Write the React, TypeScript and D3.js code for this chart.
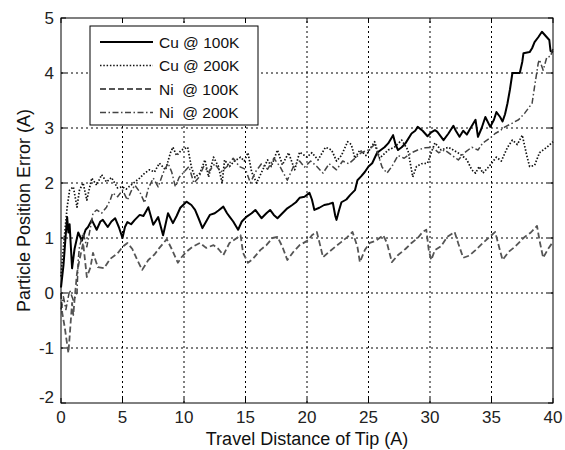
import React from "react";
import * as d3 from "d3";

const xTicks = [0, 5, 10, 15, 20, 25, 30, 35, 40];
const yTicks = [-2, -1, 0, 1, 2, 3, 4, 5];
const seriesNames = ["Cu @ 100K", "Cu @ 200K", "Ni  @ 100K", "Ni  @ 200K"];

const cu100: [number, number][] = [[0,0.1],[0.2,0.5],[0.4,1.1],[0.5,1.38],[0.6,1.1],[0.7,1.25],[0.9,0.45],[1.1,0.8],[1.4,1.1],[1.7,0.95],[2.0,1.15],[2.2,1.2],[2.5,1.33],[2.9,1.15],[3.2,1.3],[3.4,1.33],[3.8,1.2],[4.1,1.3],[4.4,1.36],[4.7,1.2],[5.0,1.0],[5.2,1.2],[5.4,1.29],[5.7,1.25],[6.0,1.33],[6.4,1.42],[6.7,1.4],[7.1,1.56],[7.5,1.24],[7.9,1.38],[8.3,1.05],[8.7,1.45],[9.1,1.27],[9.4,1.4],[9.7,1.55],[10.2,1.66],[10.6,1.6],[10.9,1.51],[11.2,1.35],[11.5,1.18],[11.8,1.3],[12.1,1.42],[12.5,1.45],[12.8,1.5],[13.2,1.57],[13.5,1.45],[13.7,1.39],[14.0,1.3],[14.4,1.15],[14.7,1.3],[15.1,1.39],[15.5,1.45],[15.8,1.51],[16.3,1.36],[16.7,1.45],[17.0,1.51],[17.3,1.42],[17.6,1.36],[18.0,1.45],[18.4,1.54],[18.8,1.6],[19.1,1.65],[19.4,1.73],[19.8,1.75],[20.2,1.82],[20.4,1.7],[20.6,1.51],[21.0,1.55],[21.4,1.6],[21.8,1.62],[22.1,1.64],[22.3,1.4],[22.4,1.33],[22.6,1.5],[22.8,1.65],[23.2,1.7],[23.5,1.78],[23.9,1.87],[24.1,2.05],[24.4,2.12],[24.7,2.2],[25.0,2.3],[25.3,2.36],[25.7,2.55],[26.0,2.6],[26.3,2.65],[26.6,2.72],[27.0,2.87],[27.2,2.7],[27.4,2.6],[27.7,2.65],[28.0,2.72],[28.5,2.9],[28.8,2.95],[29.0,3.02],[29.4,2.95],[29.8,2.85],[30.1,2.92],[30.4,2.96],[30.6,2.93],[31.1,2.78],[31.5,2.9],[31.9,3.04],[32.1,2.95],[32.4,2.84],[32.7,2.95],[33.0,2.88],[33.3,3.0],[33.7,3.15],[33.9,2.84],[34.2,3.0],[34.5,3.2],[34.9,3.02],[35.2,3.15],[35.4,3.29],[35.7,3.2],[35.9,3.12],[36.1,3.25],[36.3,3.45],[36.5,3.7],[36.7,4.0],[37.0,4.0],[37.3,4.0],[37.5,4.2],[37.6,4.36],[38.1,4.38],[38.3,4.45],[38.5,4.56],[38.8,4.65],[39.1,4.75],[39.3,4.7],[39.5,4.65],[39.7,4.6],[39.8,4.4],[40,4.38]];

const cu200: [number, number][] = [[0,0.3],[0.2,0.84],[0.5,1.56],[0.7,1.87],[1.0,1.93],[1.3,1.56],[1.5,1.87],[1.8,2.0],[2.1,1.69],[2.5,2.09],[2.9,1.96],[3.3,2.15],[3.7,2.02],[4.1,2.1],[4.6,1.91],[5.0,1.93],[5.3,1.89],[5.9,2.0],[6.4,2.09],[6.8,2.18],[7.2,2.24],[7.6,2.2],[8.0,2.36],[8.5,2.24],[8.9,2.55],[9.1,2.65],[9.4,2.5],[9.8,2.6],[10.3,2.65],[10.6,2.29],[10.9,2.1],[11.3,2.18],[11.7,2.42],[12.0,2.11],[12.4,2.47],[12.8,2.3],[13.1,2.0],[13.3,2.42],[13.7,2.3],[14.1,2.4],[14.6,2.47],[14.9,2.4],[15.2,2.55],[15.5,2.2],[15.9,2.0],[16.4,2.24],[16.8,2.42],[17.1,2.3],[17.6,2.6],[18.0,2.33],[18.5,2.55],[19.0,2.24],[19.4,2.56],[20.0,2.47],[20.4,2.55],[20.9,2.42],[21.5,2.65],[22.0,2.6],[22.4,2.4],[22.8,2.5],[23.3,2.75],[23.6,2.7],[23.9,2.45],[24.3,2.6],[24.8,2.5],[25.5,2.75],[25.9,2.45],[26.6,2.6],[27.1,2.65],[27.7,2.78],[28.2,2.6],[28.6,2.11],[28.9,2.3],[29.3,2.35],[29.8,2.36],[30.1,2.55],[30.4,2.73],[30.9,2.6],[31.5,2.65],[32.2,2.56],[32.6,2.5],[33.0,2.42],[33.4,2.24],[33.7,2.18],[34.0,2.3],[34.3,2.18],[34.8,2.3],[35.4,2.47],[35.8,2.4],[36.3,2.65],[36.7,2.78],[37.1,2.7],[37.5,2.87],[37.9,2.47],[38.1,2.3],[38.5,2.32],[38.9,2.55],[39.5,2.65],[40,2.75]];

const ni100: [number, number][] = [[0,0.0],[0.1,-0.36],[0.3,-0.62],[0.6,-1.09],[0.7,-0.8],[0.9,-0.18],[1.0,-0.4],[1.1,-0.13],[1.3,0.36],[1.5,0.6],[1.8,0.91],[2.1,0.29],[2.4,0.47],[2.6,0.73],[3.0,0.47],[3.5,0.45],[4.0,0.62],[4.6,0.72],[5.0,0.84],[5.4,0.91],[5.8,0.8],[6.2,0.6],[6.6,0.42],[7.1,0.6],[7.6,0.7],[8.0,0.82],[8.6,0.98],[9.0,0.8],[9.5,0.55],[9.8,0.65],[10.2,0.75],[10.7,0.84],[11.3,0.91],[11.8,0.82],[12.4,0.87],[12.8,0.8],[13.2,0.69],[13.7,0.91],[14.3,1.0],[14.6,1.05],[14.8,0.73],[15.2,0.55],[15.6,0.62],[16.2,0.78],[16.7,0.87],[17.2,1.0],[17.6,1.02],[18.0,0.84],[18.4,0.6],[18.9,0.75],[19.4,0.87],[20.1,0.96],[20.4,1.05],[20.8,1.11],[21.1,0.84],[21.3,0.65],[21.7,0.73],[22.3,0.84],[22.8,0.93],[23.3,1.02],[23.7,1.11],[24.1,0.84],[24.3,0.56],[24.7,0.78],[25.1,0.91],[25.6,0.95],[26.2,1.05],[26.5,0.91],[26.9,0.56],[27.4,0.69],[28.0,0.8],[28.5,0.91],[29.0,1.0],[29.4,1.11],[29.7,1.15],[29.9,0.78],[30.1,0.6],[30.4,0.78],[30.9,0.85],[31.4,1.02],[32.0,1.11],[32.3,0.9],[32.7,0.64],[33.2,0.68],[33.7,0.78],[34.3,0.91],[35.0,1.05],[35.3,1.11],[35.6,0.85],[35.9,0.6],[36.4,0.75],[36.9,0.84],[37.7,1.02],[38.2,1.1],[38.7,1.22],[38.9,0.96],[39.2,0.64],[39.6,0.8],[40,0.93]];

const ni200: [number, number][] = [[0,-0.3],[0.2,-0.07],[0.4,-0.3],[0.7,0.05],[1.0,-0.13],[1.3,0.0],[1.4,0.6],[1.5,0.84],[1.8,1.09],[2.1,0.84],[2.4,1.2],[2.6,1.45],[2.9,1.51],[3.3,1.45],[3.7,1.56],[4.0,1.69],[4.2,1.82],[4.6,1.75],[5.0,1.87],[5.4,1.69],[5.7,1.85],[6.0,1.96],[6.4,1.84],[6.8,1.64],[7.1,1.9],[7.5,2.09],[7.9,1.93],[8.3,2.18],[8.7,2.36],[9.0,2.2],[9.3,1.93],[9.6,2.1],[10.0,2.2],[10.4,2.3],[10.8,2.0],[11.2,2.1],[11.6,2.3],[12.0,2.2],[12.5,2.35],[13.0,2.2],[13.5,2.3],[14.0,2.45],[14.5,2.3],[15.0,2.25],[15.4,2.0],[15.8,2.2],[16.3,2.35],[16.8,2.25],[17.3,2.45],[17.8,2.3],[18.4,2.05],[18.9,2.3],[19.4,2.4],[19.8,2.29],[20.3,2.4],[20.8,2.3],[21.3,2.18],[21.8,2.35],[22.4,2.24],[22.9,2.4],[23.4,2.35],[23.9,2.45],[24.4,2.55],[25.0,2.6],[25.5,2.7],[25.8,2.5],[26.1,2.29],[26.5,2.18],[26.9,2.3],[27.4,2.5],[27.9,2.45],[28.5,2.55],[29.0,2.6],[29.6,2.64],[30.2,2.65],[30.7,2.55],[31.2,2.6],[31.8,2.5],[32.3,2.42],[32.8,2.55],[33.4,2.65],[33.9,2.6],[34.3,2.73],[34.9,2.82],[35.3,2.9],[35.7,2.95],[36.1,3.02],[36.7,3.09],[37.2,3.15],[37.7,3.27],[38.3,3.45],[38.5,3.75],[38.8,4.18],[38.9,4.24],[39.2,4.05],[39.5,4.29],[39.8,4.3],[40,4.45]];

const seriesData = [cu100, cu200, ni100, ni200];
const styles = [
  { stroke: "#000", width: 2, dash: "none" },
  { stroke: "#111", width: 1.7, dash: "1.5,1.8" },
  { stroke: "#555", width: 1.8, dash: "6,3" },
  { stroke: "#444", width: 1.5, dash: "6,2.5,1.5,2.5" },
];

const W = 565, H = 450;
const M = { left: 61, right: 12, top: 18, bottom: 47 };

export default function App() {
  const x = d3.scaleLinear().domain([0, 40]).range([M.left, W - M.right]);
  const y = d3.scaleLinear().domain([-2, 5]).range([H - M.bottom, M.top]);
  const line = d3.line<[number, number]>().x((d) => x(d[0])).y((d) => y(d[1]));
  const font = "'Liberation Sans', Arial, sans-serif";
  return (
    <svg width={W} height={H} style={{ position: "absolute", left: 0, top: 0, background: "#fff" }} fontFamily={font}>
      <rect x={0} y={0} width={W} height={H} fill="#fff" />
      {xTicks.slice(1, -1).map((t) => (
        <line key={"gx" + t} x1={x(t)} x2={x(t)} y1={y(-2)} y2={y(5)} stroke="#000" strokeWidth={1} strokeDasharray="2,3" />
      ))}
      {yTicks.slice(1, -1).map((t) => (
        <line key={"gy" + t} x1={x(0)} x2={x(40)} y1={y(t)} y2={y(t)} stroke="#000" strokeWidth={1} strokeDasharray="2,3" />
      ))}
      <g>
        {seriesData.map((d, i) => (
          <path key={i} d={line(d) || ""} fill="none" stroke={styles[i].stroke} strokeWidth={styles[i].width}
            strokeDasharray={styles[i].dash} strokeLinejoin="round" />
        ))}
      </g>
      <rect x={x(0)} y={y(5)} width={x(40) - x(0)} height={y(-2) - y(5)} fill="none" stroke="#000" strokeWidth={1} />
      {xTicks.map((t) => (
        <g key={"tx" + t}>
          <line x1={x(t)} x2={x(t)} y1={y(-2)} y2={y(-2) - 5} stroke="#000" />
          <line x1={x(t)} x2={x(t)} y1={y(5)} y2={y(5) + 5} stroke="#000" />
          <text x={x(t)} y={y(-2) + 20} textAnchor="middle" fontSize={17} fill="#222">{t}</text>
        </g>
      ))}
      {yTicks.map((t) => (
        <g key={"ty" + t}>
          <line x1={x(0)} x2={x(0) + 5} y1={y(t)} y2={y(t)} stroke="#000" />
          <line x1={x(40)} x2={x(40) - 5} y1={y(t)} y2={y(t)} stroke="#000" />
          <text x={x(0) - 7} y={y(t) + (t === -2 ? 0 : 6)} textAnchor="end" fontSize={17} fill="#222">{t}</text>
        </g>
      ))}
      <text x={(x(0) + x(40)) / 2} y={445} textAnchor="middle" fontSize={18} fill="#111">Travel Distance of Tip (A)</text>
      <text transform={`translate(30,${(y(5) + y(-2)) / 2}) rotate(-90)`} textAnchor="middle" fontSize={18} fill="#111">Particle Position Error (A)</text>
      <g>
        <rect x={90} y={26} width={168} height={99} fill="#fff" stroke="#000" strokeWidth={1} />
        {seriesNames.map((n, i) => (
          <g key={n}>
            <line x1={100} x2={153} y1={42 + i * 23.5} y2={42 + i * 23.5} stroke={styles[i].stroke}
              strokeWidth={styles[i].width} strokeDasharray={styles[i].dash} />
            <text x={159} y={42 + i * 23.5 + 5.5} fontSize={15.5} fill="#111" style={{ whiteSpace: "pre" }}>{n}</text>
          </g>
        ))}
      </g>
    </svg>
  );
}
